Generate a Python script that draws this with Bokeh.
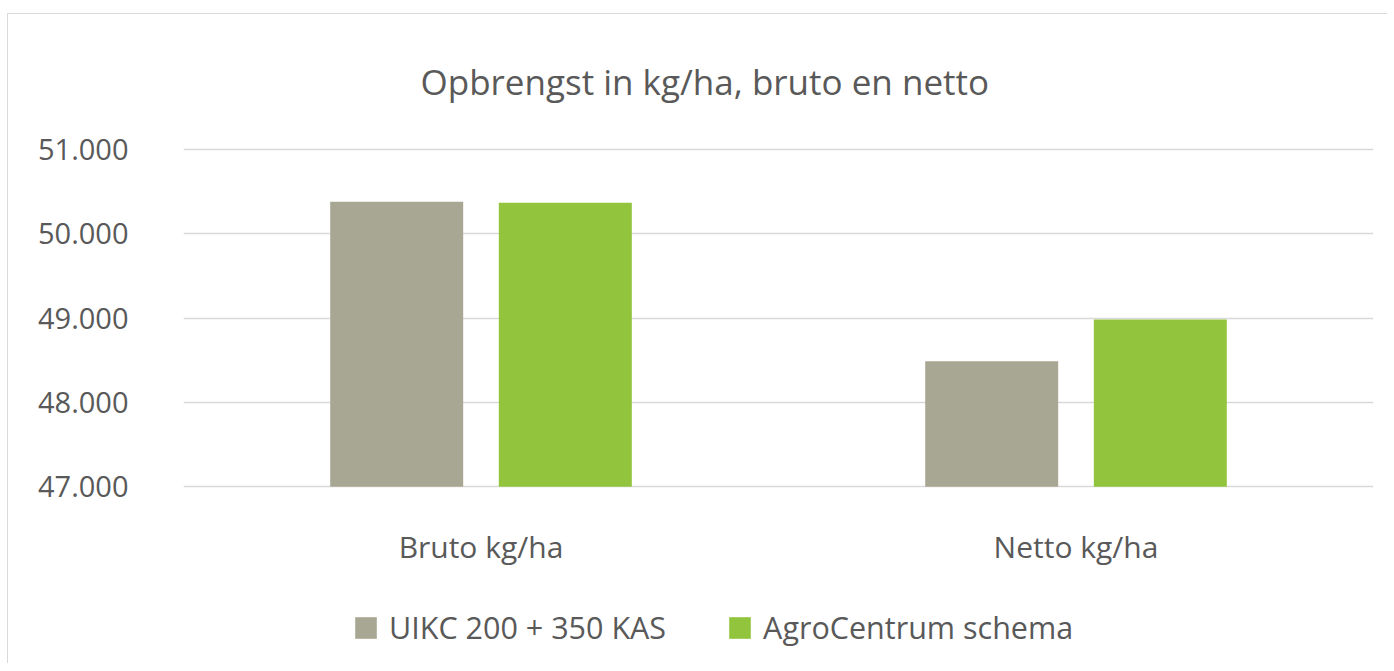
from bokeh.plotting import figure
from bokeh.models import (ColumnDataSource, Range1d, FactorRange, Legend, LegendItem,
                          CustomJSTickFormatter, FixedTicker)
from bokeh.transform import dodge
from bokeh.embed import file_html
from bokeh.resources import INLINE

categories = ["Bruto kg/ha", "Netto kg/ha"]
uikc = [50380, 48490]
agro = [50370, 48985]
series_names = ["UIKC 200 + 350 KAS", "AgroCentrum schema"]
y_ticks = [47000, 48000, 49000, 50000, 51000]
y_base = 47000
title_text = "Opbrengst in kg/ha, bruto en netto"

FONT = "Open Sans"
TXT = "#595959"
GRAY = "#A8A794"
GREEN = "#92C43E"

src = ColumnDataSource(dict(cat=categories, uikc=uikc, agro=agro))

p = figure(x_range=FactorRange(*categories, range_padding=0),
           y_range=Range1d(45000, 51024),
           width=1380, height=650, output_backend="svg", toolbar_location=None,
           min_border_left=175, min_border_right=15, min_border_top=133, min_border_bottom=9)
p.margin = (13, 0, 0, 7)
p.styles = {"border-left": "1px solid #d9d9d9", "border-top": "1px solid #d9d9d9"}
p.outline_line_color = None
p.background_fill_color = "white"
p.border_fill_color = "white"

p.title.text = title_text
p.title.align = "left"
p.title.vertical_align = "top"
p.title.offset = 237
p.title.standoff = 82
p.title.text_font = FONT
p.title.text_font_size = "35px"
p.title.text_color = TXT
p.title.text_font_style = "normal"

r1 = p.vbar(x=dodge("cat", -0.1417, range=p.x_range), top="uikc", bottom=y_base, width=0.2235,
            source=src, fill_color=GRAY, line_color=None)
r2 = p.vbar(x=dodge("cat", 0.1417, range=p.x_range), top="agro", bottom=y_base, width=0.2235,
            source=src, fill_color=GREEN, line_color=None)

p.xgrid.grid_line_color = None
p.ygrid.grid_line_color = "#D9D9D9"
p.ygrid.grid_line_width = 1.5
p.yaxis.ticker = FixedTicker(ticks=y_ticks)
p.yaxis.formatter = CustomJSTickFormatter(code="return (tick/1000).toFixed(3);")
for ax in (p.xaxis[0], p.yaxis[0]):
    ax.axis_line_color = None
    ax.major_tick_line_color = None
    ax.minor_tick_line_color = None
    ax.major_label_text_font = FONT
    ax.major_label_text_color = TXT
p.yaxis.major_label_text_font_size = "29px"
p.xaxis.major_label_text_font_size = "30px"
p.yaxis.major_label_standoff = 49
p.xaxis.major_label_standoff = 33
p.xaxis.fixed_location = y_base

legend = Legend(items=[LegendItem(label=series_names[0], renderers=[r1]),
                       LegendItem(label=series_names[1], renderers=[r2])],
                location=(169, 7), orientation="horizontal",
                glyph_width=27, glyph_height=27, label_height=27,
                label_text_font=FONT, label_text_font_size="30.5px", label_text_color=TXT,
                label_standoff=10, spacing=60, padding=0, margin=0,
                border_line_color=None, background_fill_alpha=0)
p.add_layout(legend, "center")

open("out.html", "w").write(file_html(p, INLINE))
